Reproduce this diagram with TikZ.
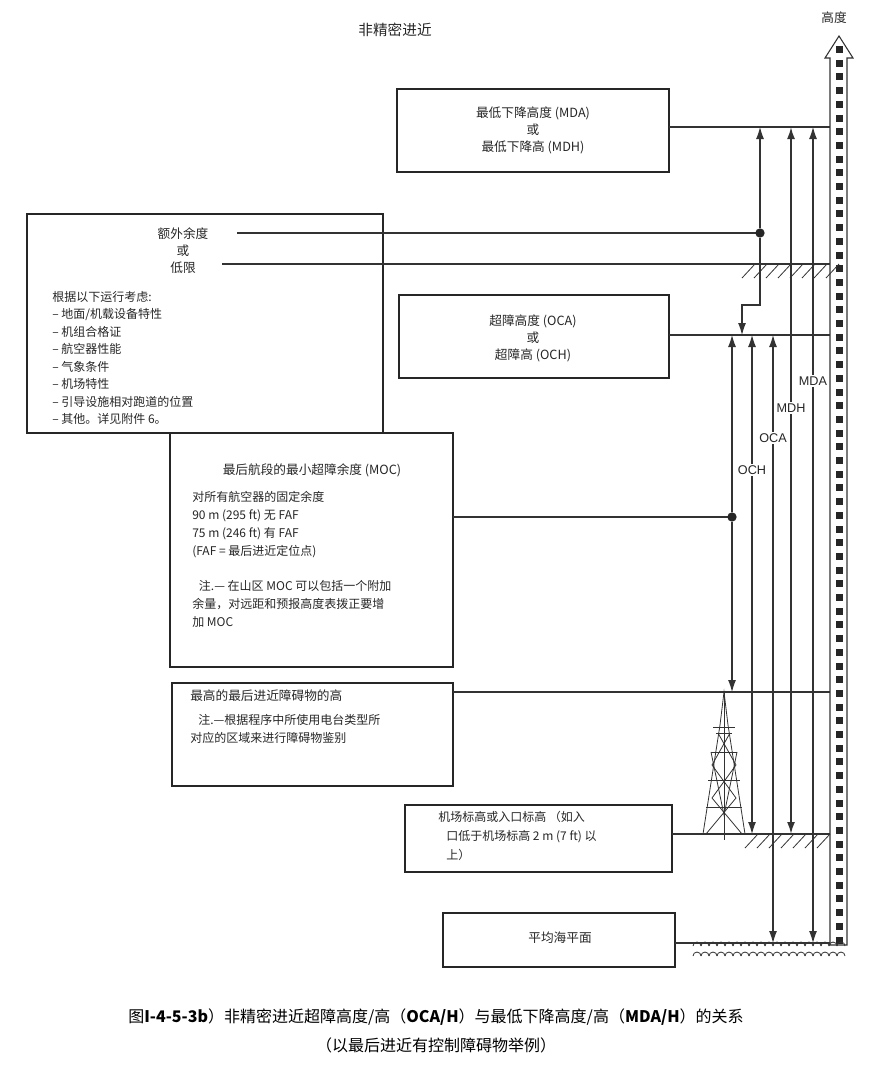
\documentclass[tikz,border=0pt]{standalone}
\usepackage{fontspec}
\setmainfont{Liberation Sans}
\newfontfamily\cjk{Noto Sans CJK SC}
\begin{document}
\begin{tikzpicture}[x=0.75pt,y=-0.75pt,
 box/.style={draw=black!85,line width=1.3pt},
 ln/.style={draw=black!80,line width=0.8pt},
 ar/.style={draw=black!80,line width=0.8pt,-{Latex[length=9pt,width=6pt]}},
 t/.style={font=\cjk\fontsize{9.5pt}{12.8pt}\selectfont,inner sep=0pt,text=black!85},
 tl/.style={t,anchor=west},
 lab/.style={font=\fontsize{9.5pt}{11pt}\selectfont,fill=white,inner sep=1.5pt,text=black!85},
 dot/.style={circle,fill=black!85,inner sep=0pt,minimum size=7pt}]
\usetikzlibrary{arrows.meta}
\useasboundingbox (0,0) rectangle (873,1067);
% title
\node[t,font=\cjk\fontsize{11pt}{13pt}\selectfont] (title) at (395,30) {非精密进近};
\node[t] (alt) at (834,18) {高度};
% ruler
\draw[black!80,line width=0.8pt,fill=white] (830,945) -- (830,58) -- (825,58) -- (839,36) -- (853,58) -- (847,58) -- (847,945) -- cycle;
\foreach \i in {0,...,65} {\fill[black!85] (835.5,{46+13.7*\i}) rectangle (842.5,{53+13.7*\i});}
% boxes
\draw[box] (397,89) rectangle (669,172);
\node[t,align=center] (mda) at (533,130) {最低下降高度 (MDA)\\或\\最低下降高 (MDH)};
\draw[box] (27,214) rectangle (383,433);
\node[t,align=center] (ex) at (183,251) {额外余度\\或\\低限};
\node[tl,align=left,font=\cjk\fontsize{9pt}{13.1pt}\selectfont] (list) at (52,358) {根据以下运行考虑:\\– 地面/机载设备特性\\– 机组合格证\\– 航空器性能\\– 气象条件\\– 机场特性\\– 引导设施相对跑道的位置\\– 其他。详见附件 6。};
\draw[box] (399,295) rectangle (669,378);
\node[t,align=center] (oca) at (533,338) {超障高度 (OCA)\\或\\超障高 (OCH)};
\draw[box] (170,433) rectangle (453,667);
\node[t] (moc) at (312,470) {最后航段的最小超障余度 (MOC)};
\node[tl,align=left,font=\cjk\fontsize{9pt}{13.5pt}\selectfont] (moc2) at (192,525) {对所有航空器的固定余度\\90 m (295 ft) 无 FAF\\75 m (246 ft) 有 FAF\\(FAF = 最后进近定位点)};
\node[tl,align=left,font=\cjk\fontsize{9pt}{13.2pt}\selectfont] (moc3) at (192,604) {\hspace{5pt}注.— 在山区 MOC 可以包括一个附加\\余量，对远距和预报高度表拨正要增\\加 MOC};
\draw[box] (172,683) rectangle (453,786);
\node[tl] (ob) at (190,696) {最高的最后进近障碍物的高};
\node[tl,align=left,font=\cjk\fontsize{9pt}{13.2pt}\selectfont] (ob2) at (190,729) {\hspace{6pt}注.—根据程序中所使用电台类型所\\对应的区域来进行障碍物鉴别};
\draw[box] (405,805) rectangle (672,872);
\node[tl,align=left,font=\cjk\fontsize{9pt}{14.3pt}\selectfont] (thr) at (438,836) {机场标高或入口标高 （如入\\\hspace{6pt}口低于机场标高 2 m (7 ft) 以\\\hspace{6pt}上）};
\draw[box] (443,913) rectangle (675,967);
\node[t] (sea) at (560,938) {平均海平面};
% horizontal lines
\coordinate (d1) at (760,233); \coordinate (d2) at (732,517);
\draw[ln] (669,127) -- (830,127);
\draw[ln] (237,233) -- (d1);
\draw[ln] (222,264) -- (830,264);
\draw[ln] (669,335) -- (830,335);
\draw[ln] (453,517) -- (d2);
\draw[ln] (453,692) -- (830,692);
\draw[ln] (672,834) -- (830,834);
\draw[ln] (675,943) -- (830,943);
% hatches
\foreach \x in {742,754,...,826} {\draw[black!80,line width=0.6pt] (\x,278) -- ({\x+13},264);}
\foreach \x in {745,757,...,826} {\draw[black!80,line width=0.6pt] (\x,848) -- ({\x+13},834);}
% waves
\foreach \y in {946,956} {\foreach \x in {693,701,...,842} {\draw[black!80,line width=0.6pt] (\x,\y) arc[start angle=180,end angle=360,radius=4];}}
% tower
\begin{scope}[black!80,line width=0.6pt]
\draw (703,834) -- (720,725) -- (724,692) -- (728,725) -- (745,834);
\draw (724,692) -- (724,840);
\draw (713,727) -- (735,727); \draw (716,733) -- (732,733);
\draw (711,752) -- (737,752); \draw (708,780) -- (740,780); \draw (706,807) -- (742,807);
\draw (718,733) -- (736,765) -- (712,798) -- (742,834);
\draw (730,733) -- (712,765) -- (736,798) -- (706,834);
\draw (711,752) -- (724,815) -- (737,752);
\end{scope}
% dots and arrows
\node[dot] (n1) at (d1) {}; \node[dot] (n2) at (d2) {};
\coordinate (m1) at (760,127); \coordinate (o1) at (742,335);
\draw[ar] (n1) -- (m1);
\draw[ar] (n1) -- (760,305) -- (742,305) -- (o1);
\draw[ar] (n2) -- (732,335);
\draw[ar] (n2) -- (732,692);
\draw[ar] (752,440) -- (752,335); \draw[ar] (752,440) -- (752,834);
\draw[ar] (773,440) -- (773,335); \draw[ar] (773,440) -- (773,943);
\draw[ar,line width=1.4pt] (791,400) -- (791,127); \draw[ar,line width=1.4pt] (791,400) -- (791,834);
\draw[ar] (813,400) -- (813,127); \draw[ar] (813,400) -- (813,943);
\node[lab] (och) at (752,470) {OCH};
\node[lab] (ocal) at (773,438) {OCA};
\node[lab] (mdh) at (791,408) {MDH};
\node[lab] (mdal) at (813,381) {MDA};
% caption
\node[t,font=\cjk\fontsize{12pt}{14pt}\selectfont,text=black] (cap1) at (436,1017) {图\textbf{I-4-5-3b}）非精密进近超障高度/高（\textbf{OCA/H}）与最低下降高度/高（\textbf{MDA/H}）的关系};
\node[t,font=\cjk\fontsize{12pt}{14pt}\selectfont,text=black] (cap2) at (436,1045) {（以最后进近有控制障碍物举例）};
\end{tikzpicture}
\end{document}
